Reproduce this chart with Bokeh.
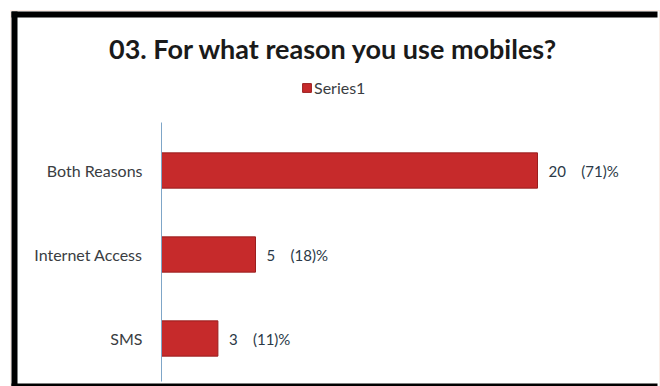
from bokeh.plotting import figure
from bokeh.models import (ColumnDataSource, Range1d, Legend, LegendItem, FixedTicker,
                          BoxAnnotation, Label, LabelSet)
from bokeh.core.properties import value
from bokeh.embed import file_html
from bokeh.resources import INLINE

categories = ["SMS", "Internet Access", "Both Reasons"]
counts = [3, 5, 20]
percents = [11, 18, 71]
series_name = "Series1"
title_text = "03. For what reason you use mobiles?"

pos = list(range(len(categories)))
NB = "\u00a0"
labels = [f"{c}{NB*4}({p})%" for c, p in zip(counts, percents)]
src = ColumnDataSource(dict(y=pos, val=counts, lab=labels))

p = figure(width=660, height=386, output_backend="svg", toolbar_location=None,
           x_range=Range1d(-161 / 18.8, (660 - 161) / 18.8),
           y_range=Range1d(-48 / 84, 2 + 170 / 84),
           min_border=0)
p.outline_line_color = None
p.background_fill_color = "white"
p.border_fill_color = "white"

r = p.hbar(y="y", right="val", left=0, height=0.42, source=src,
           fill_color="#c62a2b", line_color="#9a1e1e", line_width=1)

p.xaxis.visible = False
p.xgrid.visible = False
p.ygrid.visible = False
ya = p.yaxis[0]
ya.fixed_location = 0
ya.bounds = (-0.51, 2.57)
ya.ticker = FixedTicker(ticks=pos)
ya.major_label_overrides = {i: c for i, c in zip(pos, categories)}
ya.axis_line_color = "#7fa6c8"
ya.major_tick_line_color = None
ya.minor_tick_line_color = None
ya.major_tick_out = 0
ya.major_tick_in = 0
ya.major_label_standoff = 19
ya.major_label_text_font = "Lato"
ya.major_label_text_font_size = "16px"
ya.major_label_text_color = "#3a3d42"

ls = LabelSet(x="val", y="y", text="lab", source=src, x_offset=11, y_offset=0,
              text_font=value("Lato"), text_font_size=value("15px"),
              text_color=value("#2b3947"), text_baseline=value("middle"))
p.add_layout(ls)

legend = Legend(items=[LegendItem(label=series_name, renderers=[r])],
                location=(301, 386 - 97), background_fill_alpha=0, border_line_color=None,
                label_text_font="Lato", label_text_font_size="16px",
                label_text_color="#3a3d42", glyph_width=11, glyph_height=11,
                padding=0, margin=0, label_standoff=2)
p.add_layout(legend)

p.add_layout(Label(x=333, y=386 - 48, x_units="screen", y_units="screen", text=title_text,
                   text_font="Lato", text_font_style="bold", text_font_size="27px",
                   text_color="#1a1a1a", text_align="center", text_baseline="middle"))

# chart frame edges (screen px, y measured from bottom)
p.add_layout(BoxAnnotation(left=10, right=659, bottom=0, top=376,
                           left_units="screen", right_units="screen",
                           top_units="screen", bottom_units="screen",
                           fill_alpha=0, line_color="#f2c2ae", line_width=1))
for (l, rr, b, t) in [(11, 17, 0, 375), (11, 657, 369, 375), (11, 657, 0, 3)]:
    p.add_layout(BoxAnnotation(left=l, right=rr, bottom=b, top=t,
                               left_units="screen", right_units="screen",
                               top_units="screen", bottom_units="screen",
                               fill_color="black", fill_alpha=1, line_color=None))

open("out.html", "w").write(file_html(p, INLINE))
